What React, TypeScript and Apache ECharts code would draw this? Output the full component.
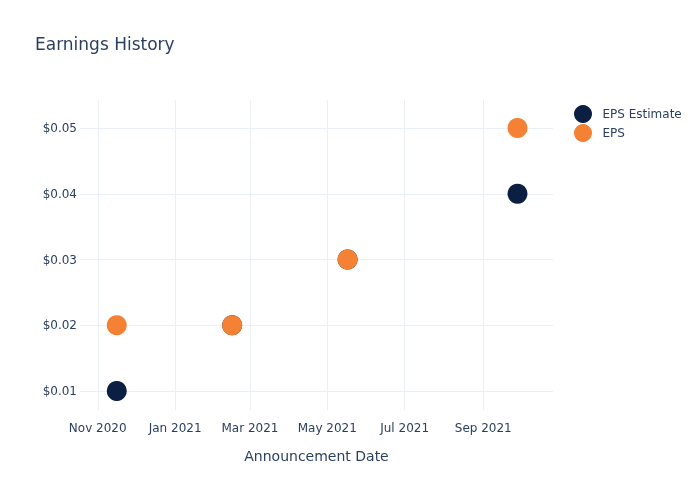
import React, { useEffect, useRef } from "react";
import * as echarts from "echarts";

const dates = ["2020-11-16", "2021-02-15", "2021-05-17", "2021-09-28"];
const epsEstimate = [0.01, 0.02, 0.03, 0.04];
const eps = [0.02, 0.02, 0.03, 0.05];
const tickDates = ["2020-11-01", "2021-01-01", "2021-03-01", "2021-05-01", "2021-07-01", "2021-09-01"];
const yTicks = [0.01, 0.02, 0.03, 0.04, 0.05];
const monthNames = ["Jan", "Feb", "Mar", "Apr", "May", "Jun", "Jul", "Aug", "Sep", "Oct", "Nov", "Dec"];

const ts = (s: string) => {
  const [y, m, d] = s.split("-").map(Number);
  return Date.UTC(y, m - 1, d);
};

export default function App() {
  const ref = useRef<HTMLDivElement>(null);
  useEffect(() => {
    if (!ref.current) return;
    const chart = echarts.init(ref.current, undefined, { renderer: "svg" });
    const textColor = "#2a3f5f";
    const font = "'DejaVu Sans', sans-serif";
    chart.setOption({
      animation: false,
      title: {
        text: "Earnings History",
        left: 30,
        top: 30,
        textStyle: { fontSize: 17, fontWeight: "normal", color: textColor, fontFamily: font },
      },
      legend: {
        orient: "vertical",
        left: 569,
        top: 100,
        itemGap: 1,
        itemWidth: 29,
        itemHeight: 18,
        icon: "circle",
        textStyle: { fontSize: 12, color: textColor, fontFamily: font },
        data: ["EPS Estimate", "EPS"],
      },
      grid: { left: 80, right: 147, top: 100, bottom: 90 },
      xAxis: {
        type: "value",
        min: ts("2020-10-18"),
        max: ts("2021-10-26"),
        name: "Announcement Date",
        nameLocation: "middle",
        nameGap: 39,
        nameTextStyle: { fontSize: 14, color: textColor, fontFamily: font },
        axisLine: { show: false },
        axisTick: { show: false, customValues: tickDates.map(ts) },
        axisLabel: {
          customValues: tickDates.map(ts),
          color: textColor,
          fontSize: 12,
          fontFamily: font,
          margin: 12,
          formatter: (v: number) => {
            const d = new Date(v);
            return monthNames[d.getUTCMonth()] + " " + d.getUTCFullYear();
          },
        },
        splitLine: { show: true, lineStyle: { color: "#ebf0f8", width: 1 } },
      },
      yAxis: {
        type: "value",
        min: 0.00711,
        max: 0.05426,
        axisLine: { show: false },
        axisTick: { show: false, customValues: yTicks },
        axisLabel: {
          customValues: yTicks,
          color: textColor,
          fontSize: 12,
          fontFamily: font,
          margin: 3,
          formatter: (v: number) => "$" + v.toFixed(2),
        },
        splitLine: { show: true, lineStyle: { color: "#ebf0f8", width: 1 } },
      },
      series: [
        {
          name: "EPS Estimate",
          type: "scatter",
          symbolSize: 20,
          itemStyle: { color: "#0b1f43", opacity: 1 },
          data: dates.map((d, i) => [ts(d), epsEstimate[i]]),
        },
        {
          name: "EPS",
          type: "scatter",
          symbolSize: 20,
          itemStyle: { color: "#f58135", opacity: 1 },
          data: dates.map((d, i) => [ts(d), eps[i]]),
        },
      ],
    });
    return () => chart.dispose();
  }, []);
  return <div ref={ref} style={{ position: "fixed", left: 0, top: 0, width: 700, height: 500 }} />;
}
